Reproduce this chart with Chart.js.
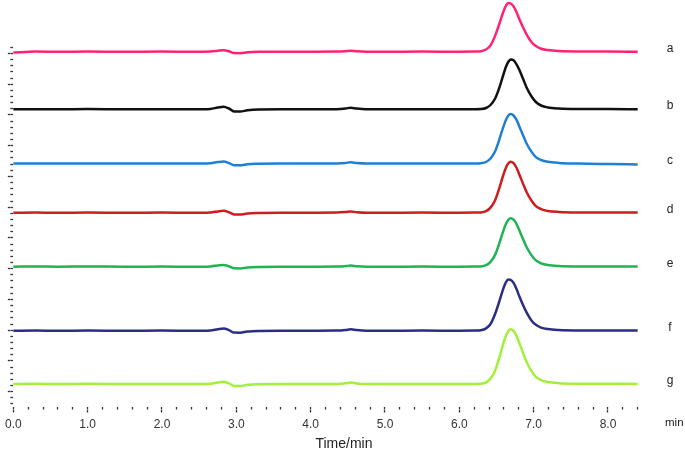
<!DOCTYPE html>
<html>
<head>
<meta charset="utf-8">
<script src="https://cdn.jsdelivr.net/npm/chart.js@4.4.1/dist/chart.umd.min.js"></script>
<style>
html, body { margin: 0; padding: 0; background: #fff; }
#wrap { width: 685px; height: 454px; position: relative; }
</style>
</head>
<body>
<div id="wrap"><canvas id="chart"></canvas></div>
<script>
// retention time (min)
var times = [0.0, 0.3, 0.6, 1.0, 1.5, 2.0, 2.4, 2.65, 2.75, 2.83, 2.9, 2.97, 3.05, 3.15, 3.3, 3.6,
             4.0, 4.35, 4.47, 4.54, 4.62, 4.75, 5.0, 5.5, 6.0, 6.2,
             6.29, 6.36, 6.42, 6.48, 6.54, 6.59, 6.63, 6.66, 6.69, 6.73,
             6.77, 6.81, 6.86, 6.91, 6.97, 7.03, 7.10, 7.19, 7.34, 7.59, 8.0, 8.4];

// detector signal of each trace, relative to its own baseline
var traceA = [-0.8, 0.1, 0, 0.1, 0, 0.1, 0, 0.2, 1.0, 1.5, 0.4, -1.4, -1.5, -0.6, -0.1, 0,
              0, 0.1, 0.5, 0.9, 0.4, 0, 0, 0.1, 0, 0.1,
              0.5, 2.2, 6.3, 15.6, 28.2, 39.4, 46.3, 48.6, 48.2, 45.3,
              39.4, 32.1, 23.9, 16.6, 9.7, 5.6, 2.9, 1.6, 0.7, 0.3, 0.2, 0.0];
var traceB = [0, 0.1, 0, 0.2, 0, 0.1, 0, 0.4, 1.8, 2.6, 0.8, -2.2, -2.3, -1.0, -0.2, 0,
              0, 0.1, 0.8, 1.6, 0.7, 0, 0, 0.1, 0, 0.1,
              0.3, 1.3, 4.3, 10.5, 22.0, 34.0, 43.0, 47.5, 49.9, 49.0,
              45.0, 39.0, 30.0, 21.0, 13.0, 7.3, 3.8, 1.9, 0.8, 0.3, 0.2, 0.1];
var traceC = [0, 0.1, 0, 0.1, 0, 0.1, 0, 0.3, 1.4, 2.0, 0.5, -1.7, -1.8, -0.7, -0.2, 0,
              0, 0.1, 0.6, 1.2, 0.5, 0, 0, 0, -0.1, 0,
              0.3, 1.5, 5.0, 11.9, 24.3, 36.1, 44.1, 48.0, 49.5, 48.0,
              43.6, 36.6, 27.7, 19.3, 11.9, 6.4, 3.5, 1.7, 0.6, 0.0, -0.5, -0.9];
var traceD = [0, 0.1, 0, 0.1, 0, 0.1, 0, 0.3, 1.3, 1.9, 0.5, -1.7, -1.8, -0.7, -0.2, 0,
              0, 0.1, 0.6, 1.2, 0.5, 0, 0, 0.1, 0, 0.1,
              0.3, 1.5, 5.1, 12.2, 25.0, 37.2, 45.4, 49.5, 51.0, 49.5,
              44.9, 37.7, 28.6, 19.9, 12.2, 6.6, 3.6, 1.8, 0.8, 0.3, 0.2, 0.1];
var traceE = [0, 0.2, 0, 0.2, 0, 0.1, 0, 0.3, 1.3, 1.8, 0.5, -1.6, -1.7, -0.7, -0.2, 0,
              0, 0.1, 0.6, 1.1, 0.5, 0, 0, 0.1, 0, 0.1,
              0.3, 1.5, 4.9, 11.6, 23.8, 35.4, 43.2, 47.0, 48.5, 47.0,
              42.7, 35.9, 27.2, 18.9, 11.6, 6.3, 3.4, 1.7, 0.7, 0.3, 0.2, 0.1];
var traceF = [0, 0.1, 0, 0.1, 0, 0.1, 0, 0.3, 1.5, 2.2, 0.6, -1.9, -2.0, -0.8, -0.2, 0,
              0, 0.1, 0.7, 1.4, 0.6, 0, 0, 0.1, 0, 0.1,
              0.5, 2.3, 6.7, 16.4, 29.8, 41.6, 48.8, 51.2, 50.9, 47.8,
              41.6, 33.9, 25.2, 17.5, 10.3, 5.9, 3.1, 1.6, 0.7, 0.3, 0.2, 0.1];
var traceG = [0, 0.2, 0, 0.2, 0, 0.1, 0, 0.3, 1.5, 2.2, 0.6, -1.9, -2.0, -0.8, -0.2, 0,
              0, 0.1, 0.7, 1.4, 0.6, 0, 0, 0.1, 0, 0.1,
              0.3, 1.6, 5.5, 13.1, 26.8, 39.9, 48.7, 53.1, 54.7, 53.1,
              48.1, 40.5, 30.6, 21.3, 13.1, 7.1, 3.8, 1.9, 0.8, 0.3, 0.2, 0.1];

var traceNames = ['a', 'b', 'c', 'd', 'e', 'f', 'g'];
// vertical offset of each trace in the stacked plot
var baselines = [354.8, 297.2, 243.0, 193.8, 139.8, 75.8, 22.5];
var xTickLabels = ['0.0', '1.0', '2.0', '3.0', '4.0', '5.0', '6.0', '7.0', '8.0'];

var traces = [traceA, traceB, traceC, traceD, traceE, traceF, traceG];
var colors = ['#ff2275', '#111111', '#1f80d3', '#cc1d1f', '#1db452', '#2a2e82', '#a2f03a'];

var FONT = '"Liberation Sans", Arial, Helvetica, sans-serif';
var TICK = '#333';
var NONE = 'rgba(0,0,0,0)';

var datasets = traces.map(function(tr, i) {
    return {
        label: traceNames[i],
        data: times.map(function(t, k) { return { x: t, y: baselines[i] + tr[k] }; }),
        borderColor: colors[i],
        borderWidth: 2.5,
        pointRadius: 0,
        fill: false,
        cubicInterpolationMode: 'monotone',
        clip: false,
        xAxisID: 'x',
        yAxisID: 'y'
    };
});

// axis labels and the trace letters
var textPlugin = {
    id: 'textPlugin',
    afterDraw: function(chart) {
        var ctx = chart.ctx;
        var yScale = chart.scales.y;
        ctx.save();
        ctx.fillStyle = '#222';
        ctx.font = '12px ' + FONT;
        ctx.textAlign = 'center';
        ctx.textBaseline = 'alphabetic';
        traceNames.forEach(function(n, i) {
            ctx.fillText(n, 670, yScale.getPixelForValue(baselines[i]));
        });
        ctx.textBaseline = 'middle';
        ctx.textAlign = 'left';
        ctx.font = '11.5px ' + FONT;
        ctx.fillText('min', 665, 423);
        ctx.textAlign = 'center';
        ctx.font = '14px ' + FONT;
        ctx.fillText('Time/min', 344, 444);
        ctx.restore();
    }
};

new Chart(document.getElementById('chart').getContext('2d'), {
    type: 'line',
    data: { datasets: datasets },
    options: {
        responsive: true,
        maintainAspectRatio: false,
        animation: false,
        layout: { padding: { left: 0, right: 47.3, top: 0, bottom: 0 } },
        plugins: { legend: { display: false }, tooltip: { enabled: false } },
        scales: {
            x: {
                type: 'linear', position: 'bottom', weight: 0, min: 0, max: 8.4,
                border: { display: false },
                grid: { drawOnChartArea: false, tickLength: 3, tickWidth: 1.3, tickColor: TICK },
                ticks: { display: false, stepSize: 0.2, autoSkip: false, includeBounds: false },
                afterFit: function(s) { s.height = 3; }
            },
            xMajor: {
                type: 'linear', position: 'bottom', weight: 1, min: 0, max: 8.4,
                border: { display: false },
                grid: {
                    drawOnChartArea: false, tickLength: 3, tickWidth: 1.3,
                    tickColor: function(c) { return Number.isInteger(c.tick.value) ? TICK : NONE; }
                },
                ticks: {
                    stepSize: 1, autoSkip: false, includeBounds: false, maxRotation: 0, padding: 5,
                    color: '#333', font: { family: FONT, size: 12 },
                    callback: function(v) { return Number.isInteger(v) ? xTickLabels[v] : ''; }
                },
                afterFit: function(s) { s.height = 44.5; }
            },
            y: { type: 'linear', display: false, min: 0, max: 406.5 },
            yMinor: {
                type: 'linear', position: 'left', weight: 0, min: -0.41, max: 65.69,
                border: { display: false },
                grid: {
                    drawOnChartArea: false, tickLength: 3, tickWidth: 1.3,
                    tickColor: function(c) {
                        var v = c.tick.value;
                        return (Number.isInteger(v) && v >= 0 && v <= 58) ? TICK : NONE;
                    }
                },
                ticks: { display: false, stepSize: 1, includeBounds: false, autoSkip: false },
                afterFit: function(s) { s.width = 3; }
            },
            yMajor: {
                type: 'linear', position: 'left', weight: 1, min: -0.41, max: 65.69,
                border: { display: false },
                grid: {
                    drawOnChartArea: false, tickLength: 2.5, tickWidth: 1.3,
                    tickColor: function(c) {
                        var v = c.tick.value;
                        return (Number.isInteger(v) && v >= 0 && v <= 58 && (v - 2) % 5 === 0) ? TICK : NONE;
                    }
                },
                ticks: { display: false, stepSize: 1, includeBounds: false, autoSkip: false },
                afterFit: function(s) { s.width = 4.3; }
            }
        }
    },
    plugins: [textPlugin]
});
</script>
</body>
</html>
